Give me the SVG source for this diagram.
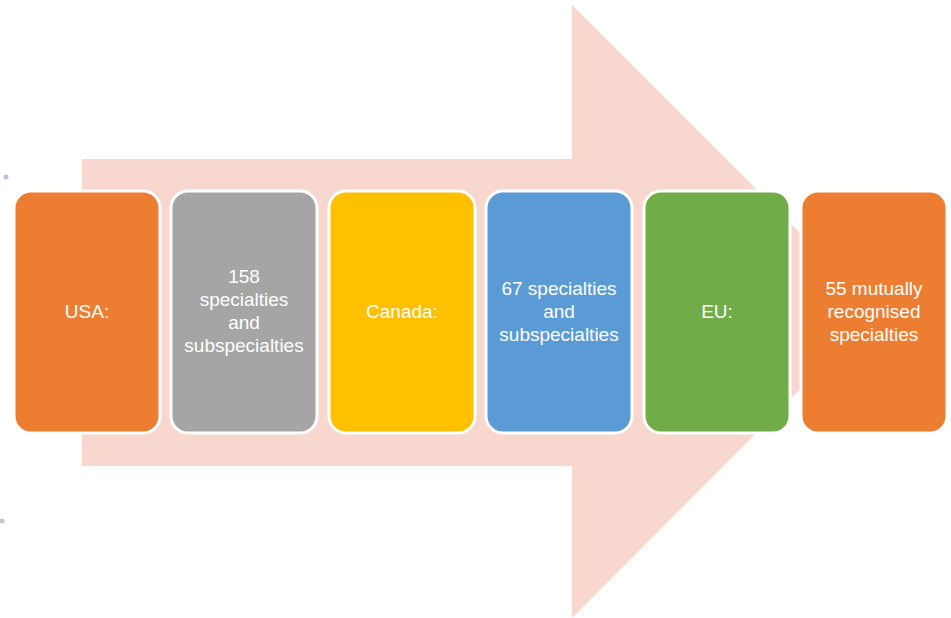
<svg xmlns="http://www.w3.org/2000/svg" width="951" height="618" viewBox="0 0 951 618">
<style>
.box{stroke:#ffffff;stroke-width:3}
.t{font-family:"Liberation Sans",Arial,sans-serif;font-size:19px;fill:#ffffff;text-anchor:middle}
</style>
<rect width="951" height="618" fill="#ffffff"/>
<g id="arrow">
<polygon points="82,159 572,159 572,5 878,311 572,618 572,466 82,466" fill="#F8D8CE"/>
</g>
<g id="specks">
<circle cx="6" cy="177" r="2.5" fill="#B8C2DE"/>
<circle cx="2" cy="521" r="2.5" fill="#C8C8C8"/>
</g>
<g id="connectors"></g>
<g id="usa">
<rect class="box" x="14" y="191" width="146" height="242" rx="17" fill="#ED7D31"/>
<text class="t" x="87" y="318">USA:</text>
</g>
<g id="usa-count">
<rect class="box" x="171" y="191" width="146" height="242" rx="17" fill="#A5A5A5"/>
<text class="t" x="244" y="283">158</text>
<text class="t" x="244" y="306">specialties</text>
<text class="t" x="244" y="329">and</text>
<text class="t" x="244" y="352">subspecialties</text>
</g>
<g id="canada">
<rect class="box" x="329" y="191" width="146" height="242" rx="17" fill="#FFC000"/>
<text class="t" x="402" y="318">Canada:</text>
</g>
<g id="canada-count">
<rect class="box" x="486" y="191" width="146" height="242" rx="17" fill="#5B9BD5"/>
<text class="t" x="559" y="295">67 specialties</text>
<text class="t" x="559" y="318">and</text>
<text class="t" x="559" y="341">subspecialties</text>
</g>
<g id="eu">
<rect class="box" x="644" y="191" width="146" height="242" rx="17" fill="#70AD47"/>
<text class="t" x="717" y="318">EU:</text>
</g>
<g id="eu-count">
<rect class="box" x="801" y="191" width="146" height="242" rx="17" fill="#ED7D31"/>
<text class="t" x="874" y="295">55 mutually</text>
<text class="t" x="874" y="318">recognised</text>
<text class="t" x="874" y="341">specialties</text>
</g>
</svg>
